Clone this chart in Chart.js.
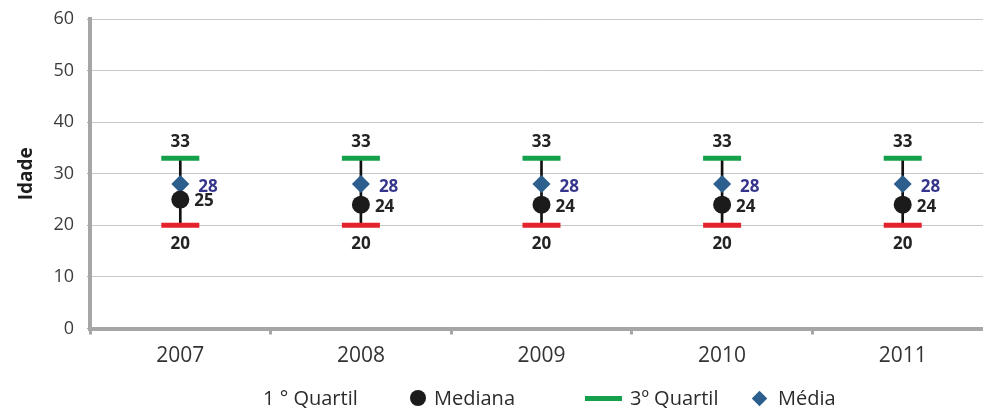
<!DOCTYPE html>
<html>
<head>
<meta charset="utf-8">
<script src="https://cdn.jsdelivr.net/npm/chart.js@4"></script>
<style>
  html, body { margin: 0; padding: 0; background: #fff; overflow: hidden; width: 983px; height: 408px; }
  #wrap { position: relative; width: 983px; height: 408px; overflow: hidden; }
  #chart { position: absolute; left: 0; top: 0; }
  #legend {
    position: absolute; top: 385px; left: 0; width: 983px; height: 26px;
    font-family: "Open Sans", sans-serif; font-size: 20px; line-height: 26px; color: #2b2b2b;
  }
  #legend .item { position: absolute; top: 0; display: flex; align-items: center; white-space: nowrap; height: 26px; }
  #legend .sym { display: inline-block; margin-right: 8px; }
  #legend .sym.none { display: none; }
  #legend .sym.circle { width: 16px; height: 16px; border-radius: 50%; }
  #legend .sym.line { width: 37px; height: 5px; }
  #legend .sym.diamond { width: 11px; height: 11px; transform: rotate(45deg); margin-left: 2px; margin-right: 13px; }
</style>
</head>
<body>
<div id="wrap">
  <canvas id="chart" width="995" height="408"></canvas>
  <div id="legend"></div>
</div>
<script>
// Age distribution per year: quartiles, median and mean
const categories = ['2007', '2008', '2009', '2010', '2011'];
const firstQuartile = [20, 20, 20, 20, 20];
const median = [25, 24, 24, 24, 24];
const thirdQuartile = [33, 33, 33, 33, 33];
const mean = [28, 28, 28, 28, 28];
const yTicks = [0, 10, 20, 30, 40, 50, 60];

const seriesNames = ['1 ° Quartil', 'Mediana', '3º Quartil', 'Média'];
const colors = { q1: '#e3222b', median: '#1b1b1b', q3: '#15a04c', mean: '#2c5f8e', meanText: '#35358c', text: '#232323' };
const FONT = '"Open Sans", sans-serif';

// Writes each point's value next to its marker
const valueLabels = {
  id: 'valueLabels',
  afterDatasetsDraw(chart) {
    const ctx = chart.ctx;
    chart.data.datasets.forEach((ds, i) => {
      const lab = ds.valueLabel;
      if (!lab) return;
      const meta = chart.getDatasetMeta(i);
      meta.data.forEach((pt, j) => {
        ctx.save();
        ctx.font = 'bold 17px ' + FONT;
        ctx.fillStyle = lab.color;
        ctx.textAlign = lab.align;
        ctx.textBaseline = 'middle';
        ctx.fillText(String(ds.data[j]), pt.x + lab.dx, pt.y + lab.dy);
        ctx.restore();
      });
    });
  }
};

new Chart(document.getElementById('chart'), {
  type: 'bar',
  data: {
    labels: categories,
    datasets: [
      {
        type: 'line', label: seriesNames[0], data: firstQuartile, showLine: false,
        pointStyle: 'line', pointRadius: 19, pointBorderWidth: 5,
        borderColor: colors.q1, backgroundColor: colors.q1, order: 1,
        valueLabel: { dx: 0, dy: 19, color: colors.text, align: 'center' }
      },
      {
        type: 'line', label: seriesNames[1], data: median, showLine: false,
        pointStyle: 'circle', pointRadius: 9, pointBorderWidth: 0,
        borderColor: colors.median, backgroundColor: colors.median, order: 1,
        valueLabel: { dx: 14, dy: 2, color: colors.text, align: 'left' }
      },
      {
        type: 'line', label: seriesNames[2], data: thirdQuartile, showLine: false,
        pointStyle: 'line', pointRadius: 19, pointBorderWidth: 5,
        borderColor: colors.q3, backgroundColor: colors.q3, order: 1,
        valueLabel: { dx: 0, dy: -16, color: colors.text, align: 'center' }
      },
      {
        type: 'line', label: seriesNames[3], data: mean, showLine: false,
        pointStyle: 'rectRot', pointRadius: 9, pointBorderWidth: 0,
        borderColor: colors.mean, backgroundColor: colors.mean, order: 1,
        valueLabel: { dx: 18, dy: 3, color: colors.meanText, align: 'left' }
      },
      {
        // whisker joining the first and third quartiles
        type: 'bar', label: 'range', data: firstQuartile.map((v, i) => [v, thirdQuartile[i]]),
        backgroundColor: '#111', barThickness: 2, order: 10
      }
    ]
  },
  options: {
    responsive: false,
    animation: false,
    events: [],
    layout: { autoPadding: false, padding: { top: 19, left: 0, right: 2, bottom: 31.5 } },
    plugins: { legend: { display: false }, tooltip: { enabled: false } },
    scales: {
      x: {
        afterFit(scale) { scale.height = 48; },
        grid: { offset: true, drawOnChartArea: false, drawTicks: true, tickLength: 6, tickColor: '#a6a6a6', tickWidth: 3 },
        border: { color: '#a6a6a6', width: 4 },
        ticks: { font: { family: FONT, size: 21 }, color: '#333', padding: 9 }
      },
      y: {
        min: 0, max: 60,
        afterBuildTicks(scale) { scale.ticks = yTicks.map(v => ({ value: v })); },
        afterFit(scale) { scale.width = 90; scale.paddingTop = 0; scale.paddingBottom = 0; },
        grid: { color: '#c8c8c8', lineWidth: 1, drawTicks: true, tickLength: 3, tickColor: '#a6a6a6' },
        border: { color: '#a6a6a6', width: 4 },
        ticks: { font: { family: FONT, size: 18 }, color: '#3c3c3c', padding: 13 },
        title: {
          display: true, text: 'Idade', color: '#1e1e1e',
          font: { family: FONT, size: 19, weight: 'bold' }, padding: { top: 15, bottom: 0 }
        }
      }
    }
  },
  plugins: [valueLabels]
});

// Legend row under the axis
const legendSymbols = [
  { cls: 'none', color: colors.q1 },
  { cls: 'circle', color: colors.median },
  { cls: 'line', color: colors.q3 },
  { cls: 'diamond', color: colors.mean }
];
const legendLefts = [263, 410, 585, 752];
const legend = document.getElementById('legend');
seriesNames.forEach((name, i) => {
  const item = document.createElement('span');
  item.className = 'item';
  item.style.left = legendLefts[i] + 'px';
  const sym = document.createElement('span');
  sym.className = 'sym ' + legendSymbols[i].cls;
  sym.style.background = legendSymbols[i].color;
  const txt = document.createElement('span');
  txt.textContent = name;
  item.appendChild(sym);
  item.appendChild(txt);
  legend.appendChild(item);
});
</script>
</body>
</html>
